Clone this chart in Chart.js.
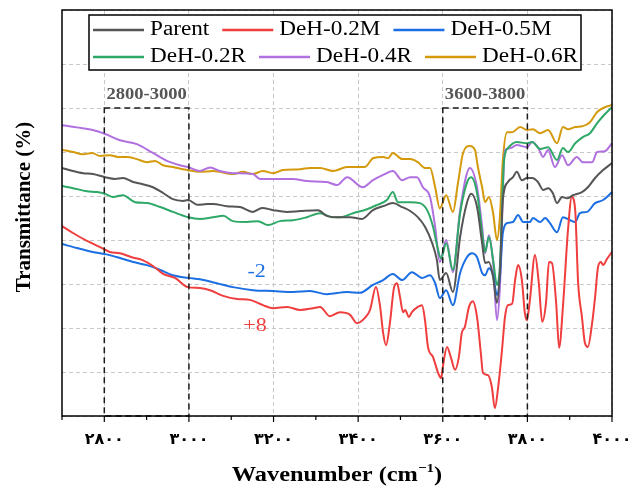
<!DOCTYPE html>
<html>
<head>
<meta charset="utf-8">
<script src="https://cdn.jsdelivr.net/npm/chart.js@4.4.1/dist/chart.umd.min.js"></script>
<style>
  html, body { margin: 0; padding: 0; background: #fff; }
  canvas { display: block; }
</style>
</head>
<body>
<canvas id="ftir" width="640" height="488"></canvas>
<script>
// FTIR spectra in the OH-stretch region, stacked with offsets (transmittance in grid units)
const seriesLabels = ["Parent", "DeH-0.2M", "DeH-0.5M", "DeH-0.2R", "DeH-0.4R", "DeH-0.6R"];
const seriesColors = ["#555555", "#f03e3e", "#1c6fe3", "#2ea866", "#b070e0", "#d49a0c"];

const parent = [
  [2700, 5.64], [2726, 5.57], [2750, 5.52], [2773, 5.50], [2802, 5.43], [2825, 5.39], [2844, 5.41],
  [2868, 5.32], [2891, 5.27], [2915, 5.20], [2939, 5.07], [2962, 4.93], [2986, 4.89], [2998, 4.91],
  [3021, 4.80], [3043, 4.82], [3057, 4.82], [3090, 4.77], [3121, 4.75], [3151, 4.64], [3173, 4.73],
  [3199, 4.68], [3232, 4.64], [3263, 4.66], [3305, 4.68], [3326, 4.55], [3350, 4.52], [3381, 4.52],
  [3409, 4.48], [3435, 4.68], [3459, 4.77], [3482, 4.84], [3504, 4.75], [3523, 4.66], [3541, 4.52],
  [3558, 4.30], [3575, 3.93], [3586, 3.55], [3593, 3.09], [3608, 3.25], [3624, 2.82], [3641, 4.07],
  [3657, 4.84], [3667, 5.05], [3681, 4.75], [3693, 3.93], [3700, 3.48], [3709, 3.50], [3719, 3.16],
  [3728, 2.57], [3735, 3.25], [3742, 4.91], [3754, 5.32], [3766, 5.43], [3775, 5.55], [3787, 5.36],
  [3799, 5.41], [3811, 5.41], [3825, 5.32], [3837, 5.14], [3849, 5.18], [3860, 5.07], [3870, 4.84],
  [3882, 4.98], [3894, 4.95], [3908, 5.02], [3929, 5.09], [3943, 5.20], [3960, 5.41], [3979, 5.59],
  [4000, 5.75]
];

const deh02M = [
  [2700, 4.32], [2726, 4.16], [2759, 3.98], [2790, 3.84], [2813, 3.73], [2837, 3.70], [2865, 3.61],
  [2889, 3.55], [2915, 3.41], [2939, 3.23], [2967, 3.14], [2998, 2.93], [3026, 2.91], [3050, 2.86],
  [3081, 2.73], [3114, 2.66], [3144, 2.64], [3175, 2.52], [3199, 2.45], [3232, 2.48], [3263, 2.41],
  [3293, 2.45], [3310, 2.48], [3333, 2.27], [3357, 2.36], [3381, 2.30], [3397, 2.11], [3416, 2.23],
  [3428, 2.41], [3442, 2.93], [3452, 2.48], [3459, 1.89], [3466, 1.61], [3475, 2.11], [3485, 2.93],
  [3492, 3.02], [3499, 2.70], [3506, 2.36], [3511, 2.41], [3520, 2.25], [3527, 2.36], [3541, 2.48],
  [3551, 2.52], [3558, 2.18], [3565, 1.57], [3577, 1.34], [3589, 0.98], [3596, 0.86], [3600, 1.11],
  [3610, 1.57], [3619, 1.34], [3629, 1.05], [3638, 1.34], [3645, 1.89], [3652, 2.02], [3662, 2.48],
  [3671, 2.61], [3681, 2.25], [3690, 1.43], [3695, 0.98], [3707, 0.93], [3716, 0.66], [3723, 0.18],
  [3731, 0.66], [3740, 1.50], [3747, 2.25], [3754, 2.52], [3764, 2.55], [3771, 3.09], [3778, 3.43],
  [3787, 3.09], [3794, 2.34], [3799, 2.18], [3806, 2.64], [3818, 3.66], [3827, 3.02], [3835, 2.14],
  [3844, 2.57], [3851, 3.50], [3858, 3.48], [3868, 2.57], [3875, 1.55], [3884, 2.48], [3896, 4.23],
  [3905, 4.98], [3913, 4.68], [3920, 3.02], [3929, 2.25], [3936, 1.66], [3943, 1.57], [3953, 2.11],
  [3960, 2.70], [3967, 3.39], [3974, 3.50], [3979, 3.43], [3988, 3.57], [4000, 3.73]
];

const deh05M = [
  [2700, 3.91], [2735, 3.82], [2773, 3.73], [2802, 3.68], [2837, 3.59], [2868, 3.50], [2901, 3.43],
  [2932, 3.32], [2962, 3.20], [2998, 3.14], [3026, 3.11], [3066, 3.02], [3104, 2.93], [3151, 2.86],
  [3199, 2.84], [3246, 2.82], [3286, 2.84], [3326, 2.77], [3374, 2.82], [3404, 2.80], [3435, 2.98],
  [3459, 3.09], [3482, 3.23], [3504, 3.09], [3527, 3.27], [3551, 3.14], [3570, 3.20], [3582, 3.02],
  [3593, 2.68], [3608, 2.86], [3624, 2.52], [3641, 3.25], [3657, 3.61], [3669, 3.70], [3681, 3.61],
  [3693, 3.25], [3700, 3.20], [3709, 3.36], [3719, 3.20], [3728, 2.75], [3735, 3.15], [3742, 4.16],
  [3754, 4.39], [3766, 4.41], [3778, 4.57], [3790, 4.41], [3806, 4.41], [3813, 4.50], [3830, 4.41],
  [3842, 4.50], [3853, 4.39], [3870, 4.18], [3884, 4.52], [3901, 4.45], [3913, 4.41], [3924, 4.61],
  [3941, 4.64], [3960, 4.84], [3979, 4.91], [4000, 5.09]
];

const deh02R = [
  [2700, 5.23], [2726, 5.18], [2759, 5.11], [2783, 5.09], [2802, 5.05], [2821, 4.98], [2844, 5.02],
  [2873, 4.86], [2901, 4.84], [2932, 4.75], [2962, 4.64], [2998, 4.52], [3026, 4.48], [3057, 4.52],
  [3081, 4.55], [3104, 4.43], [3137, 4.41], [3163, 4.43], [3187, 4.34], [3215, 4.43], [3246, 4.45],
  [3279, 4.52], [3310, 4.61], [3338, 4.52], [3357, 4.52], [3388, 4.61], [3421, 4.70], [3445, 4.80],
  [3468, 4.91], [3482, 5.09], [3494, 4.86], [3523, 4.86], [3546, 4.84], [3563, 4.68], [3577, 4.30],
  [3586, 3.90], [3596, 3.58], [3608, 3.93], [3624, 3.32], [3641, 4.61], [3657, 5.30], [3667, 5.43],
  [3681, 5.07], [3693, 4.16], [3700, 3.73], [3709, 4.07], [3719, 3.55], [3728, 2.98], [3735, 3.40],
  [3745, 5.82], [3754, 6.09], [3775, 6.23], [3799, 6.20], [3811, 6.23], [3830, 6.07], [3849, 6.11],
  [3870, 5.82], [3884, 6.09], [3896, 6.00], [3913, 6.20], [3931, 6.34], [3948, 6.43], [3965, 6.66],
  [3983, 6.86], [4000, 7.02]
];

const deh04R = [
  [2700, 6.61], [2773, 6.50], [2802, 6.41], [2837, 6.27], [2877, 6.18], [2915, 5.98], [2948, 5.80],
  [2979, 5.70], [2998, 5.66], [3026, 5.57], [3050, 5.65], [3073, 5.57], [3104, 5.52], [3151, 5.50],
  [3168, 5.39], [3199, 5.39], [3246, 5.39], [3279, 5.34], [3326, 5.32], [3350, 5.25], [3374, 5.43],
  [3411, 5.20], [3435, 5.36], [3459, 5.48], [3482, 5.57], [3504, 5.36], [3523, 5.43], [3539, 5.43],
  [3553, 5.20], [3570, 4.98], [3582, 4.30], [3593, 3.50], [3608, 4.00], [3624, 3.27], [3641, 4.68],
  [3664, 5.64], [3681, 5.20], [3693, 4.30], [3700, 3.70], [3709, 4.11], [3719, 3.48], [3728, 2.18],
  [3735, 2.93], [3747, 6.05], [3759, 6.09], [3775, 6.16], [3799, 6.11], [3811, 6.23], [3825, 6.11],
  [3837, 5.89], [3849, 6.05], [3865, 5.66], [3882, 5.93], [3896, 5.70], [3917, 5.89], [3931, 5.77],
  [3953, 5.77], [3965, 6.00], [3983, 6.02], [4000, 6.20]
];

const deh06R = [
  [2700, 6.05], [2726, 6.00], [2750, 5.95], [2771, 5.98], [2790, 5.91], [2813, 5.93], [2832, 5.89],
  [2854, 5.89], [2877, 5.84], [2901, 5.77], [2920, 5.80], [2939, 5.70], [2962, 5.66], [2986, 5.61],
  [3026, 5.55], [3057, 5.57], [3104, 5.50], [3128, 5.55], [3151, 5.50], [3175, 5.57], [3199, 5.52],
  [3222, 5.59], [3263, 5.61], [3286, 5.64], [3310, 5.64], [3341, 5.57], [3374, 5.66], [3416, 5.66],
  [3435, 5.86], [3459, 5.89], [3471, 5.86], [3482, 5.98], [3504, 5.84], [3523, 5.84], [3541, 5.77],
  [3558, 5.64], [3570, 5.64], [3582, 5.20], [3593, 4.72], [3608, 5.02], [3624, 4.64], [3636, 5.30],
  [3648, 5.98], [3664, 6.14], [3676, 6.05], [3683, 5.66], [3693, 5.20], [3700, 4.86], [3709, 4.98],
  [3719, 4.61], [3728, 4.00], [3735, 4.52], [3742, 5.82], [3752, 6.45], [3764, 6.45], [3783, 6.57],
  [3799, 6.50], [3813, 6.52], [3830, 6.43], [3849, 6.50], [3870, 6.20], [3884, 6.57], [3896, 6.52],
  [3913, 6.57], [3931, 6.59], [3948, 6.68], [3965, 6.91], [3983, 7.02], [4000, 7.07]
];

const tickValues = [2800, 3000, 3200, 3400, 3600, 3800, 4000];
const tickLabels = ["۲۸۰۰", "۳۰۰۰", "۳۲۰۰", "۳۴۰۰", "۳۶۰۰", "۳۸۰۰", "۴۰۰۰"];

// highlighted wavenumber windows: [from, to, caption]
const regions = [[2800, 3000, "2800-3000"], [3600, 3800, "3600-3800"]];
// offset notes: [text, wavenumber, level, series index]
const offsetNotes = [["-2", 3160, 3.27, 2], ["+8", 3156, 2.05, 1]];

const allSeries = [parent, deh02M, deh05M, deh02R, deh04R, deh06R];

const SERIF = "'Liberation Serif', 'Times New Roman', serif";
const SX = 1.16; // text is drawn slightly wide

function wideText(ctx, text, x, y, font, color, align, sx) {
  ctx.save();
  ctx.font = font;
  ctx.fillStyle = color;
  ctx.textBaseline = "middle";
  ctx.textAlign = align || "center";
  ctx.translate(x, y);
  ctx.scale(sx || SX, 1);
  ctx.fillText(text, 0, 0);
  ctx.restore();
}

const decorations = {
  id: "decorations",
  afterDatasetsDraw(chart) {
    const { ctx, chartArea: a, scales: { x, y } } = chart;

    // dashed window boxes with captions
    regions.forEach(([from, to, caption]) => {
      const x1 = x.getPixelForValue(from);
      const x2 = x.getPixelForValue(to);
      const yt = y.getPixelForValue(7);
      ctx.save();
      ctx.strokeStyle = "#1a1a1a";
      ctx.lineWidth = 1.5;
      ctx.setLineDash([6, 4]);
      ctx.strokeRect(x1, yt, x2 - x1, a.bottom - yt);
      ctx.restore();
      wideText(ctx, caption, (x1 + x2) / 2, y.getPixelForValue(7.3),
        "bold 16px " + SERIF, "#555555");
    });

    offsetNotes.forEach(([text, wn, level, si]) => {
      wideText(ctx, text, x.getPixelForValue(wn), y.getPixelForValue(level),
        "19px " + SERIF, seriesColors[si]);
    });
  },
  afterDraw(chart) {
    const { ctx, chartArea: a, scales: { x } } = chart;

    // frame
    ctx.save();
    ctx.strokeStyle = "#000";
    ctx.lineWidth = 1.5;
    ctx.strokeRect(a.left, a.top, a.right - a.left, a.bottom - a.top);

    // tick marks, major every 200 and minor every 100
    ctx.lineWidth = 1.2;
    x.ticks.forEach((t) => {
      const px = x.getPixelForValue(t.value);
      const len = t.value % 200 === 0 ? 6 : 4;
      ctx.beginPath();
      ctx.moveTo(px, a.bottom);
      ctx.lineTo(px, a.bottom + len);
      ctx.stroke();
    });
    ctx.restore();

    tickValues.forEach((v, i) => {
      wideText(ctx, tickLabels[i], x.getPixelForValue(v), 440,
        "bold 16px 'DejaVu Sans'", "#000", "center", 1.0);
    });

    // x title with superscript
    ctx.save();
    const mainFont = "bold 21px " + SERIF;
    const supFont = "bold 13px " + SERIF;
    ctx.font = mainFont;
    const w1 = ctx.measureText("Wavenumber (cm").width;
    const w3 = ctx.measureText(")").width;
    ctx.font = supFont;
    const w2 = ctx.measureText("\u22121").width;
    ctx.translate((a.left + a.right) / 2, 476);
    ctx.scale(SX, 1);
    let cx = -(w1 + w2 + w3) / 2;
    ctx.fillStyle = "#000";
    ctx.textBaseline = "middle";
    ctx.textAlign = "left";
    ctx.font = mainFont;
    ctx.fillText("Wavenumber (cm", cx, 0);
    cx += w1;
    ctx.font = supFont;
    ctx.fillText("\u22121", cx, -7);
    cx += w2;
    ctx.font = mainFont;
    ctx.fillText(")", cx, 0);
    ctx.restore();

    // y title
    ctx.save();
    ctx.translate(25, 207);
    ctx.rotate(-Math.PI / 2);
    ctx.font = "bold 21px " + SERIF;
    ctx.fillStyle = "#000";
    ctx.textAlign = "center";
    ctx.textBaseline = "middle";
    ctx.fillText("Transmittance (%)", 0, 0);
    ctx.restore();

    // legend, three entries per row
    ctx.save();
    ctx.fillStyle = "#fff";
    ctx.fillRect(89, 15, 492, 55);
    ctx.strokeStyle = "#000";
    ctx.lineWidth = 1.5;
    ctx.strokeRect(89, 15, 492, 55);
    ctx.restore();
    const rowY = [30, 57];
    let lx = 93;
    chart.data.datasets.forEach((ds, i) => {
      if (i % 3 === 0) lx = 93;
      const ly = rowY[Math.floor(i / 3)];
      ctx.save();
      ctx.strokeStyle = ds.borderColor;
      ctx.lineWidth = 2.5;
      ctx.beginPath();
      ctx.moveTo(lx, ly);
      ctx.lineTo(lx + 51, ly);
      ctx.stroke();
      ctx.font = "20px " + SERIF;
      const tw = ctx.measureText(ds.label).width * SX;
      ctx.restore();
      wideText(ctx, ds.label, lx + 57, ly, "20px " + SERIF, "#000", "left");
      lx += 57 + tw + 13;
    });
  }
};

new Chart(document.getElementById("ftir"), {
  type: "line",
  data: {
    datasets: allSeries.map((pts, i) => ({
      label: seriesLabels[i],
      data: pts.map(([wn, v]) => ({ x: wn, y: v })),
      borderColor: seriesColors[i],
      borderWidth: 2,
      pointRadius: 0,
      fill: false,
      cubicInterpolationMode: "monotone"
    }))
  },
  options: {
    responsive: false,
    animation: false,
    layout: { padding: { left: 0, right: 28, top: 10, bottom: 0 } },
    plugins: { legend: { display: false }, tooltip: { enabled: false } },
    scales: {
      x: {
        type: "linear",
        min: 2700,
        max: 4000,
        afterFit: (s) => { s.height = 72; },
        ticks: { stepSize: 100, autoSkip: false, display: false },
        grid: {
          drawTicks: false,
          color: (c) => (c.tick && c.tick.value % 200 === 0 ? "#c8c8c8" : "rgba(0,0,0,0)"),
          lineWidth: 1
        },
        border: { display: false, dash: [4, 3] }
      },
      y: {
        min: 0,
        max: 9.23,
        afterFit: (s) => { s.width = 62; },
        ticks: { stepSize: 1, display: false },
        grid: { drawTicks: false, color: "#c8c8c8", lineWidth: 1 },
        border: { display: false, dash: [4, 3] }
      }
    }
  },
  plugins: [decorations]
});
</script>
</body>
</html>
